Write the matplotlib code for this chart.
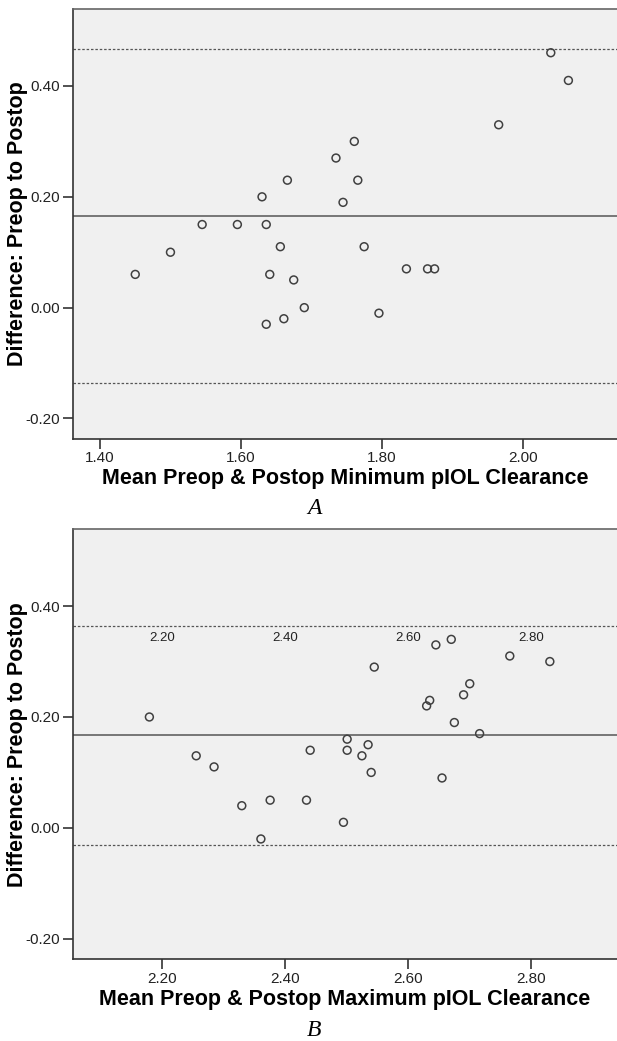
import numpy as np
import matplotlib
matplotlib.use('Agg')
import matplotlib.pyplot as plt

plt.rcParams['font.family'] = ['Liberation Sans', 'DejaVu Sans']

# Panel A: minimum clearance
minMean = [1.450, 1.500, 1.545, 1.595, 1.630, 1.636, 1.656, 1.666, 1.641, 1.675, 1.690, 1.661, 1.636,
           1.735, 1.745, 1.761, 1.766, 1.775, 1.796, 1.835, 1.865, 1.875, 1.966, 2.040, 2.065]
minDiff = [0.06, 0.10, 0.15, 0.15, 0.20, 0.15, 0.11, 0.23, 0.06, 0.05, 0.00, -0.02, -0.03,
           0.27, 0.19, 0.30, 0.23, 0.11, -0.01, 0.07, 0.07, 0.07, 0.33, 0.46, 0.41]
minLines = [0.466, 0.166, -0.136]   # upper LoA, mean, lower LoA

# Panel B: maximum clearance
maxMean = [2.180, 2.256, 2.285, 2.330, 2.376, 2.361, 2.441, 2.435, 2.495, 2.501, 2.501, 2.525, 2.535,
           2.540, 2.545, 2.630, 2.635, 2.645, 2.655, 2.670, 2.675, 2.690, 2.700, 2.716, 2.765, 2.830]
maxDiff = [0.20, 0.13, 0.11, 0.04, 0.05, -0.02, 0.14, 0.05, 0.01, 0.16, 0.14, 0.13, 0.15,
           0.10, 0.29, 0.22, 0.23, 0.33, 0.09, 0.34, 0.19, 0.24, 0.26, 0.17, 0.31, 0.30]
maxLines = [0.365, 0.167, -0.030]

yTicks = [-0.20, 0.00, 0.20, 0.40]
xTicksA = [1.40, 1.60, 1.80, 2.00]
xTicksB = [2.20, 2.40, 2.60, 2.80]

fig = plt.figure(figsize=(6.17, 10.41), dpi=100)
pA = fig.add_axes([0.1183, 0.5783, 0.8817, 0.4131])
pB = fig.add_axes([0.1183, 0.0785, 0.8817, 0.4133])

def 画面板(p, x, y, lines, xt, xlim, xlabel):
    p.set_facecolor('#f0f0f0')
    p.scatter(x, y, s=32, facecolors='none', edgecolors='#404040', linewidths=1.1, zorder=3)
    p.axhline(lines[0], color='#555555', lw=0.9, ls=(0, (2, 1.5)))
    p.axhline(lines[1], color='#555555', lw=1.1)
    p.axhline(lines[2], color='#555555', lw=0.9, ls=(0, (2, 1.5)))
    p.set_xlim(xlim)
    p.set_ylim(-0.237, 0.539)
    p.set_xticks(xt)
    p.set_xticklabels(['%.2f' % v for v in xt])
    p.set_yticks(yTicks)
    p.set_yticklabels(['%.2f' % v for v in yTicks])
    p.tick_params(axis='both', direction='out', length=7, width=1.2, color='#333333',
                  labelsize=11, labelcolor='#222222', pad=2)
    for s in ['left', 'bottom']:
        p.spines[s].set_color('#333333')
        p.spines[s].set_linewidth(1.2)
    p.spines['top'].set_color('#666666')
    p.spines['top'].set_linewidth(1.2)
    p.spines['right'].set_visible(False)
    p.set_xlabel(xlabel, fontsize=15.5, fontweight='bold', labelpad=2)
    yl = p.set_ylabel('Difference: Preop to Postop', fontsize=15.5, fontweight='bold')
    yl.set_va('center')
    p.yaxis.set_label_coords(-0.102, 0.5)

画面板(pA, minMean, minDiff, minLines, xTicksA, (1.3616, 2.134),
     'Mean Preop & Postop Minimum pIOL Clearance')
画面板(pB, maxMean, maxDiff, maxLines, xTicksB, (2.056, 2.939),
     'Mean Preop & Postop Maximum pIOL Clearance')

# stray tick labels drawn inside panel B
for v in xTicksB:
    pB.text(v, 0.342, '%.2f' % v, ha='center', va='center', fontsize=9.5, color='#222222')

fig.text(314 / 617, 1 - 508 / 1041, 'A', ha='center', va='center', fontsize=17,
         style='italic', family=['Liberation Serif', 'DejaVu Serif'])
fig.text(314 / 617, 1 - 1031 / 1041, 'B', ha='center', va='center', fontsize=17,
         style='italic', family=['Liberation Serif', 'DejaVu Serif'])

fig.savefig('out.png', dpi=100)
